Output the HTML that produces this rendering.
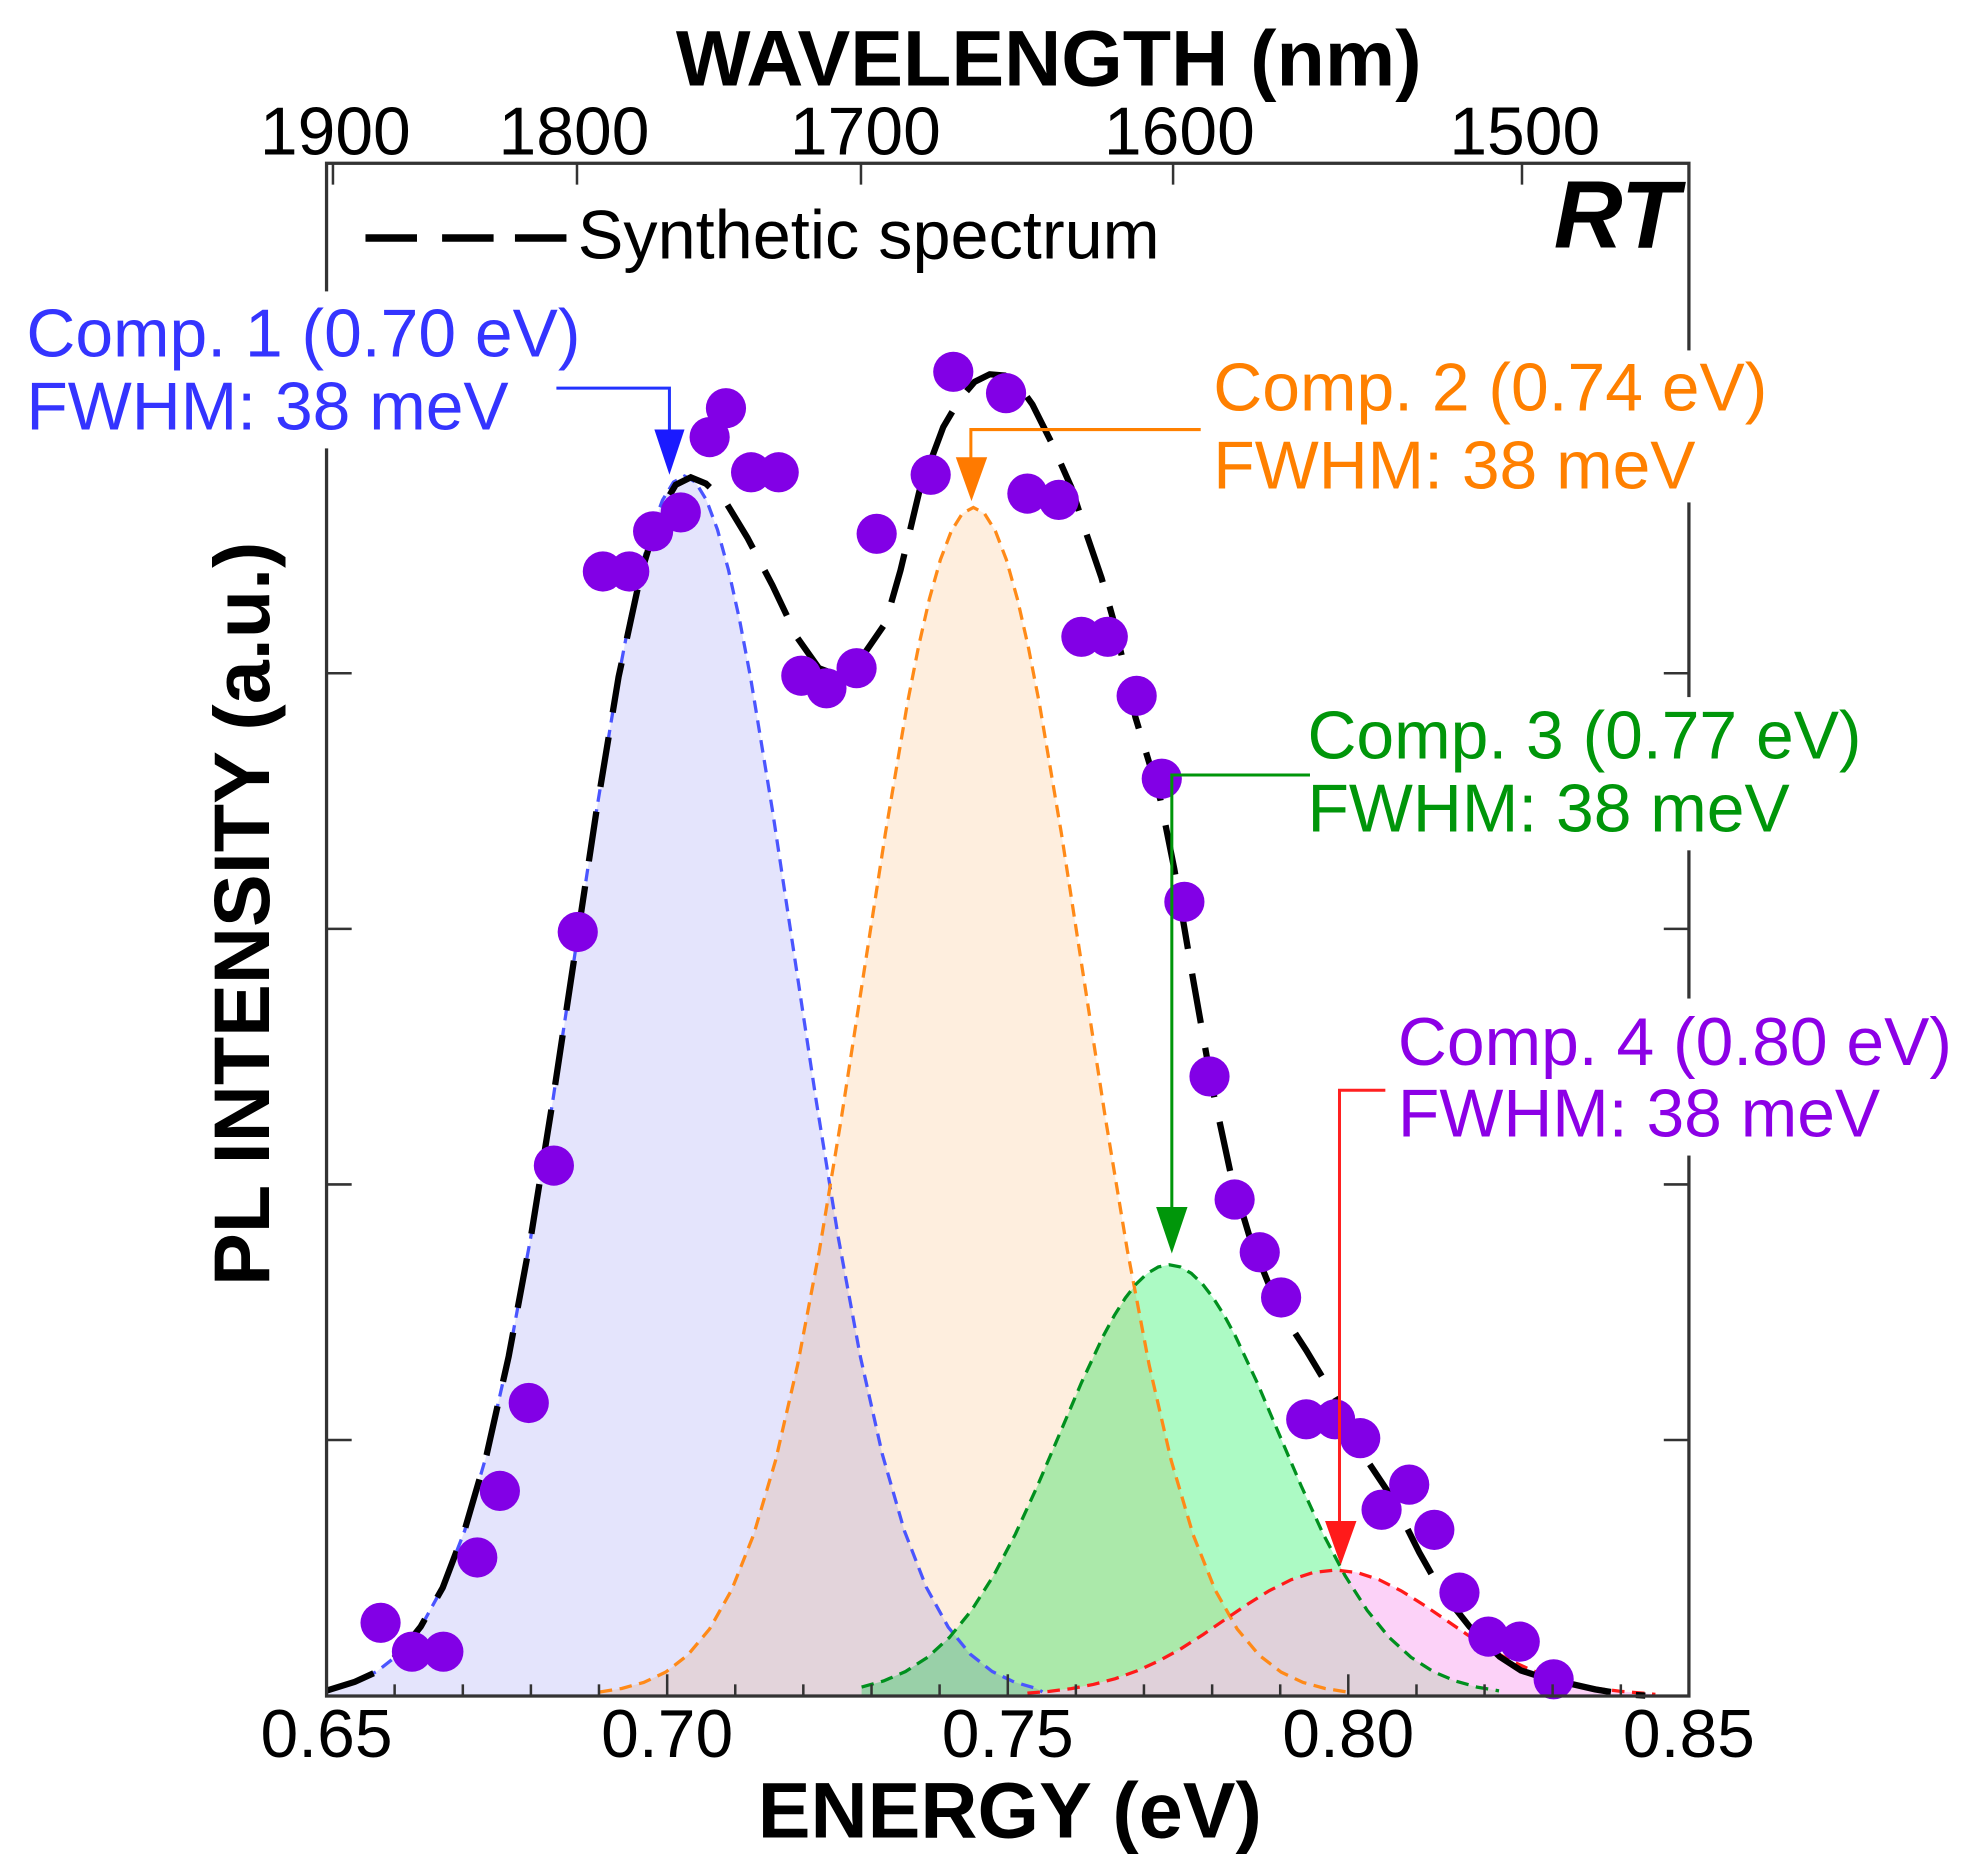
<!DOCTYPE html>
<html>
<head>
<meta charset="utf-8">
<style>
html,body{margin:0;padding:0;background:#fff;}
svg{display:block;}
text{font-family:"Liberation Sans",Arial,sans-serif;}
</style>
</head>
<body>
<svg width="1970" height="1875" viewBox="0 0 1568.5 1492.8" preserveAspectRatio="none" xmlns="http://www.w3.org/2000/svg">
<rect x="0" y="0" width="1568.5" height="1492.8" fill="#fff"/>
<defs>
<clipPath id="ogclip">
<path d="M477.5,1347.1 L495,1344.3 L512.5,1339.5 L530,1331.3 L547.5,1317.8 L565,1296.9 L582.5,1265.9 L600,1222 L617.5,1162.8 L635,1087 L652.5,995 L670,889.5 L687.5,776.3 L705,663.1 L722.5,559.8 L731.25,515.2 L740,476.7 L748.75,445.6 L757.5,422.7 L766.25,408.7 L775,404 L783.75,408.7 L792.5,422.7 L801.25,445.6 L810,476.7 L818.75,515.2 L827.5,559.8 L845,663.1 L862.5,776.3 L880,889.5 L897.5,995 L915,1087 L932.5,1162.8 L950,1222 L967.5,1265.9 L985,1296.9 L1002.5,1317.8 L1020,1331.3 L1037.5,1339.5 L1055,1344.3 L1072.5,1347.1 L1072.5,1350 L477.5,1350 Z"/>
<path d="M686,1343.2 L703.5,1338.3 L721,1330.8 L738.5,1319.5 L756,1303.6 L773.5,1282.1 L791,1254.6 L808.5,1221.3 L826,1183 L843.5,1142 L861,1100.9 L878.5,1063.5 L887.25,1047.3 L896,1033.4 L904.75,1022.1 L913.5,1013.8 L922.25,1008.7 L931,1007 L939.75,1008.7 L948.5,1013.8 L957.25,1022.1 L966,1033.4 L974.75,1047.3 L983.5,1063.5 L1001,1100.9 L1018.5,1142 L1036,1183 L1053.5,1221.3 L1071,1254.6 L1088.5,1282.1 L1106,1303.6 L1123.5,1319.5 L1141,1330.8 L1158.5,1338.3 L1176,1343.2 L1193.5,1346.2 L1193.5,1350 L686,1350 Z"/>
</clipPath>
</defs>

<!-- fills -->
<g style="isolation:isolate">
<path style="mix-blend-mode:multiply" fill="#e4e4fc" d="M260,1346 L265,1344.2 L282.5,1339.2 L300,1330.8 L317.5,1317 L335,1295.5 L352.5,1263.7 L370,1218.6 L387.5,1157.8 L405,1080.1 L422.5,985.6 L440,877.3 L457.5,761.1 L475,645 L492.5,538.9 L501.25,493.1 L510,453.7 L518.75,421.7 L527.5,398.2 L536.25,383.8 L545,379 L553.75,383.8 L562.5,398.2 L571.25,421.7 L580,453.7 L588.75,493.1 L597.5,538.9 L615,645 L632.5,761.1 L650,877.3 L667.5,985.6 L685,1080.1 L702.5,1157.8 L720,1218.6 L737.5,1263.7 L755,1295.5 L772.5,1317 L790,1330.8 L807.5,1339.2 L825,1344.2 L830,1347 L830,1350 L260,1350 Z"/>
<path style="mix-blend-mode:multiply" fill="#feeede" d="M477.5,1347.1 L495,1344.3 L512.5,1339.5 L530,1331.3 L547.5,1317.8 L565,1296.9 L582.5,1265.9 L600,1222 L617.5,1162.8 L635,1087 L652.5,995 L670,889.5 L687.5,776.3 L705,663.1 L722.5,559.8 L731.25,515.2 L740,476.7 L748.75,445.6 L757.5,422.7 L766.25,408.7 L775,404 L783.75,408.7 L792.5,422.7 L801.25,445.6 L810,476.7 L818.75,515.2 L827.5,559.8 L845,663.1 L862.5,776.3 L880,889.5 L897.5,995 L915,1087 L932.5,1162.8 L950,1222 L967.5,1265.9 L985,1296.9 L1002.5,1317.8 L1020,1331.3 L1037.5,1339.5 L1055,1344.3 L1072.5,1347.1 L1072.5,1350 L477.5,1350 Z"/>
<path style="mix-blend-mode:multiply" fill="#acfac4" d="M686,1343.2 L703.5,1338.3 L721,1330.8 L738.5,1319.5 L756,1303.6 L773.5,1282.1 L791,1254.6 L808.5,1221.3 L826,1183 L843.5,1142 L861,1100.9 L878.5,1063.5 L887.25,1047.3 L896,1033.4 L904.75,1022.1 L913.5,1013.8 L922.25,1008.7 L931,1007 L939.75,1008.7 L948.5,1013.8 L957.25,1022.1 L966,1033.4 L974.75,1047.3 L983.5,1063.5 L1001,1100.9 L1018.5,1142 L1036,1183 L1053.5,1221.3 L1071,1254.6 L1088.5,1282.1 L1106,1303.6 L1123.5,1319.5 L1141,1330.8 L1158.5,1338.3 L1176,1343.2 L1193.5,1346.2 L1193.5,1350 L686,1350 Z"/>
</g>
<path fill="#fcd2f8" d="M818,1348 L835.5,1346.6 L853,1344.4 L870.5,1341.1 L888,1336.5 L905.5,1330.2 L923,1322.2 L940.5,1312.5 L958,1301.3 L975.5,1289.3 L993,1277.4 L1010.5,1266.5 L1028,1257.7 L1045.5,1252 L1063,1250 L1080.5,1252 L1098,1257.7 L1115.5,1266.5 L1133,1277.4 L1150.5,1289.3 L1168,1301.3 L1185.5,1312.5 L1203,1322.2 L1220.5,1330.2 L1238,1336.5 L1255.5,1341.1 L1273,1344.4 L1290.5,1346.6 L1308,1348 L1318,1349 L1318,1350 L818,1350 Z"/>
<path fill="#e0d1da" clip-path="url(#ogclip)" d="M818,1348 L835.5,1346.6 L853,1344.4 L870.5,1341.1 L888,1336.5 L905.5,1330.2 L923,1322.2 L940.5,1312.5 L958,1301.3 L975.5,1289.3 L993,1277.4 L1010.5,1266.5 L1028,1257.7 L1045.5,1252 L1063,1250 L1080.5,1252 L1098,1257.7 L1115.5,1266.5 L1133,1277.4 L1150.5,1289.3 L1168,1301.3 L1185.5,1312.5 L1203,1322.2 L1220.5,1330.2 L1238,1336.5 L1255.5,1341.1 L1273,1344.4 L1290.5,1346.6 L1308,1348 L1318,1349 L1318,1350 L818,1350 Z"/>

<!-- component dashed curves -->
<g fill="none" stroke-width="2.6" stroke-dasharray="10 6">
<path stroke="#4a55ff" d="M260,1346 L265,1344.2 L282.5,1339.2 L300,1330.8 L317.5,1317 L335,1295.5 L352.5,1263.7 L370,1218.6 L387.5,1157.8 L405,1080.1 L422.5,985.6 L440,877.3 L457.5,761.1 L475,645 L492.5,538.9 L501.25,493.1 L510,453.7 L518.75,421.7 L527.5,398.2 L536.25,383.8 L545,379 L553.75,383.8 L562.5,398.2 L571.25,421.7 L580,453.7 L588.75,493.1 L597.5,538.9 L615,645 L632.5,761.1 L650,877.3 L667.5,985.6 L685,1080.1 L702.5,1157.8 L720,1218.6 L737.5,1263.7 L755,1295.5 L772.5,1317 L790,1330.8 L807.5,1339.2 L825,1344.2 L830,1347"/>
<path stroke="#ff8a18" d="M477.5,1347.1 L495,1344.3 L512.5,1339.5 L530,1331.3 L547.5,1317.8 L565,1296.9 L582.5,1265.9 L600,1222 L617.5,1162.8 L635,1087 L652.5,995 L670,889.5 L687.5,776.3 L705,663.1 L722.5,559.8 L731.25,515.2 L740,476.7 L748.75,445.6 L757.5,422.7 L766.25,408.7 L775,404 L783.75,408.7 L792.5,422.7 L801.25,445.6 L810,476.7 L818.75,515.2 L827.5,559.8 L845,663.1 L862.5,776.3 L880,889.5 L897.5,995 L915,1087 L932.5,1162.8 L950,1222 L967.5,1265.9 L985,1296.9 L1002.5,1317.8 L1020,1331.3 L1037.5,1339.5 L1055,1344.3 L1072.5,1347.1"/>
<path stroke="#00901e" d="M686,1343.2 L703.5,1338.3 L721,1330.8 L738.5,1319.5 L756,1303.6 L773.5,1282.1 L791,1254.6 L808.5,1221.3 L826,1183 L843.5,1142 L861,1100.9 L878.5,1063.5 L887.25,1047.3 L896,1033.4 L904.75,1022.1 L913.5,1013.8 L922.25,1008.7 L931,1007 L939.75,1008.7 L948.5,1013.8 L957.25,1022.1 L966,1033.4 L974.75,1047.3 L983.5,1063.5 L1001,1100.9 L1018.5,1142 L1036,1183 L1053.5,1221.3 L1071,1254.6 L1088.5,1282.1 L1106,1303.6 L1123.5,1319.5 L1141,1330.8 L1158.5,1338.3 L1176,1343.2 L1193.5,1346.2"/>
<path stroke="#ff1a1a" d="M818,1348 L835.5,1346.6 L853,1344.4 L870.5,1341.1 L888,1336.5 L905.5,1330.2 L923,1322.2 L940.5,1312.5 L958,1301.3 L975.5,1289.3 L993,1277.4 L1010.5,1266.5 L1028,1257.7 L1045.5,1252 L1063,1250 L1080.5,1252 L1098,1257.7 L1115.5,1266.5 L1133,1277.4 L1150.5,1289.3 L1168,1301.3 L1185.5,1312.5 L1203,1322.2 L1220.5,1330.2 L1238,1336.5 L1255.5,1341.1 L1273,1344.4 L1290.5,1346.6 L1308,1348 L1318,1349"/>
</g>

<!-- synthetic spectrum -->
<path fill="none" stroke="#000" stroke-width="5" stroke-dasharray="40 20" d="M260,1346 L282.5,1339 L300,1331 L317.5,1317 L335,1295 L352.5,1264 L370,1218 L387.5,1158 L405,1080 L422.5,986 L440,877 L457.5,761 L475,645 L492.5,539 L510,458 L525,408 L538,386 L550,380 L562,385 L578,400 L595,428 L615,466 L635,508 L652,532 L668,538 L685,525 L705,496 L717,454 L732,391 L751,340 L764,318 L776,304 L788,298 L800,299 L812,308 L822,322 L837,352 L853,388 L865,425 L877,460 L886,492 L895,530 L904,571 L914,604 L924,637 L935,692 L950,780 L965,865 L980,935 L995,985 L1010,1022 L1025,1052 L1040,1075 L1052,1095 L1065,1116 L1090,1165 L1104,1186 L1118,1212 L1130,1236 L1147,1266 L1170,1295 L1194,1319 L1211,1330 L1230,1336 L1248,1340 L1270,1345 L1294,1349 L1310,1350"/>

<!-- data points -->
<g fill="#8200e6">
<circle cx="303" cy="1292" r="16"/><circle cx="328" cy="1315" r="16"/><circle cx="353" cy="1315" r="16"/>
<circle cx="380" cy="1240" r="16"/><circle cx="398" cy="1187" r="16"/><circle cx="421" cy="1117" r="16"/>
<circle cx="441" cy="928" r="16"/><circle cx="460" cy="742" r="16"/><circle cx="480" cy="455" r="16"/>
<circle cx="501" cy="455" r="16"/><circle cx="520" cy="423" r="16"/><circle cx="542" cy="408" r="16"/>
<circle cx="565" cy="348" r="16"/><circle cx="578" cy="325" r="16"/><circle cx="598" cy="376" r="16"/>
<circle cx="620" cy="376" r="16"/><circle cx="638" cy="538" r="16"/><circle cx="658" cy="548" r="16"/>
<circle cx="682" cy="532" r="16"/><circle cx="698" cy="425" r="16"/><circle cx="741" cy="378" r="16"/>
<circle cx="759" cy="296" r="16"/><circle cx="801" cy="313" r="16"/><circle cx="818" cy="393" r="16"/>
<circle cx="843" cy="398" r="16"/><circle cx="861" cy="507" r="16"/><circle cx="882" cy="507" r="16"/>
<circle cx="905" cy="554" r="16"/><circle cx="925" cy="620" r="16"/><circle cx="943" cy="718" r="16"/>
<circle cx="963" cy="857" r="16"/><circle cx="983" cy="955" r="16"/><circle cx="1003" cy="997" r="16"/>
<circle cx="1020" cy="1033" r="16"/><circle cx="1040" cy="1130" r="16"/><circle cx="1063" cy="1130" r="16"/>
<circle cx="1083" cy="1145" r="16"/><circle cx="1100" cy="1202" r="16"/><circle cx="1122" cy="1182" r="16"/>
<circle cx="1142" cy="1218" r="16"/><circle cx="1162" cy="1268" r="16"/><circle cx="1185" cy="1303" r="16"/>
<circle cx="1210" cy="1307" r="16"/><circle cx="1237" cy="1337" r="16"/>
</g>

<!-- axes frame -->
<rect x="260" y="130" width="1084.7" height="1220.3" fill="none" stroke="#333" stroke-width="2.6"/>
<g stroke="#333" stroke-width="2">
<line x1="314.2" y1="1350" x2="314.2" y2="1341"/><line x1="368.5" y1="1350" x2="368.5" y2="1341"/>
<line x1="422.7" y1="1350" x2="422.7" y2="1341"/><line x1="476.9" y1="1350" x2="476.9" y2="1341"/>
<line x1="531.2" y1="1350" x2="531.2" y2="1333"/>
<line x1="585.4" y1="1350" x2="585.4" y2="1341"/><line x1="639.6" y1="1350" x2="639.6" y2="1341"/>
<line x1="693.9" y1="1350" x2="693.9" y2="1341"/><line x1="748.1" y1="1350" x2="748.1" y2="1341"/>
<line x1="802.4" y1="1350" x2="802.4" y2="1333"/>
<line x1="856.6" y1="1350" x2="856.6" y2="1341"/><line x1="910.8" y1="1350" x2="910.8" y2="1341"/>
<line x1="965.1" y1="1350" x2="965.1" y2="1341"/><line x1="1019.3" y1="1350" x2="1019.3" y2="1341"/>
<line x1="1073.5" y1="1350" x2="1073.5" y2="1333"/>
<line x1="1127.8" y1="1350" x2="1127.8" y2="1341"/><line x1="1182" y1="1350" x2="1182" y2="1341"/>
<line x1="1236.2" y1="1350" x2="1236.2" y2="1341"/><line x1="1290.5" y1="1350" x2="1290.5" y2="1341"/>
<line x1="265.1" y1="130" x2="265.1" y2="147"/><line x1="459.4" y1="130" x2="459.4" y2="147"/>
<line x1="685.5" y1="130" x2="685.5" y2="147"/><line x1="934" y1="130" x2="934" y2="147"/>
<line x1="1211.8" y1="130" x2="1211.8" y2="147"/>
<line x1="260" y1="332.5" x2="280" y2="332.5"/><line x1="260" y1="536" x2="280" y2="536"/>
<line x1="260" y1="739.5" x2="280" y2="739.5"/><line x1="260" y1="943" x2="280" y2="943"/>
<line x1="260" y1="1146.5" x2="280" y2="1146.5"/>
<line x1="1344.7" y1="332.5" x2="1324.7" y2="332.5"/><line x1="1344.7" y1="536" x2="1324.7" y2="536"/>
<line x1="1344.7" y1="739.5" x2="1324.7" y2="739.5"/><line x1="1344.7" y1="943" x2="1324.7" y2="943"/>
<line x1="1344.7" y1="1146.5" x2="1324.7" y2="1146.5"/>
</g>

<!-- annotation white boxes -->
<rect x="5" y="232" width="432" height="125" fill="#fff"/>
<rect x="955" y="279" width="462" height="121" fill="#fff"/>
<rect x="1032" y="555" width="462" height="122" fill="#fff"/>
<rect x="1104" y="795" width="462" height="125" fill="#fff"/>

<!-- annotation texts -->
<g font-size="54">
<text x="21" y="284" fill="#3434ff">Comp. 1 (0.70 eV)</text>
<text x="21" y="342" fill="#3434ff">FWHM: 38 meV</text>
<text x="966" y="327" fill="#ff8000">Comp. 2 (0.74 eV)</text>
<text x="966" y="389" fill="#ff8000">FWHM: 38 meV</text>
<text x="1041" y="604" fill="#00960a">Comp. 3 (0.77 eV)</text>
<text x="1041" y="662" fill="#00960a">FWHM: 38 meV</text>
<text x="1113" y="848" fill="#8c00e6">Comp. 4 (0.80 eV)</text>
<text x="1113" y="905" fill="#8c00e6">FWHM: 38 meV</text>
</g>

<!-- arrows -->
<polyline points="443,309 533,309 533,345" fill="none" stroke="#2233ff" stroke-width="2.4"/>
<polygon points="521,342 545,342 533,378" fill="#1a1aff"/>
<polyline points="956,342 773,342 773,367" fill="none" stroke="#ff8000" stroke-width="2.4"/>
<polygon points="761,364 786,364 773.5,399" fill="#ff7a00"/>
<polyline points="1043,617 933,617 933,964" fill="none" stroke="#00960a" stroke-width="2.4"/>
<polygon points="920.5,961 945.5,961 933,998" fill="#00960a"/>
<polyline points="1103,868 1066.5,868 1066.5,1214" fill="none" stroke="#ff2020" stroke-width="2.4"/>
<polygon points="1055,1211 1080,1211 1067.5,1246" fill="#ff1a1a"/>

<!-- legend -->
<g stroke="#000" stroke-width="6">
<line x1="291" y1="189.5" x2="332" y2="189.5"/>
<line x1="352" y1="189.5" x2="393" y2="189.5"/>
<line x1="410" y1="189.5" x2="451" y2="189.5"/>
</g>
<text x="460" y="206" font-size="54.5" fill="#000">Synthetic spectrum</text>
<text x="1337" y="197" font-size="76" font-weight="bold" font-style="italic" text-anchor="end" fill="#000">RT</text>

<!-- axis tick labels -->
<g font-size="54" fill="#000" text-anchor="middle">
<text x="260" y="1399">0.65</text>
<text x="531.2" y="1399">0.70</text>
<text x="802.4" y="1399">0.75</text>
<text x="1073.5" y="1399">0.80</text>
<text x="1344.7" y="1399">0.85</text>
<text x="267" y="123">1900</text>
<text x="457" y="123">1800</text>
<text x="689" y="123">1700</text>
<text x="939" y="123">1600</text>
<text x="1214" y="123">1500</text>
</g>

<!-- axis titles -->
<text x="835" y="68" font-size="63" font-weight="bold" text-anchor="middle" fill="#000">WAVELENGTH (nm)</text>
<text x="804" y="1463" font-size="63" font-weight="bold" text-anchor="middle" fill="#000">ENERGY (eV)</text>
<text transform="translate(214,727.5) rotate(-90)" font-size="63" font-weight="bold" text-anchor="middle" fill="#000">PL INTENSITY (a.u.)</text>
</svg>
</body>
</html>
